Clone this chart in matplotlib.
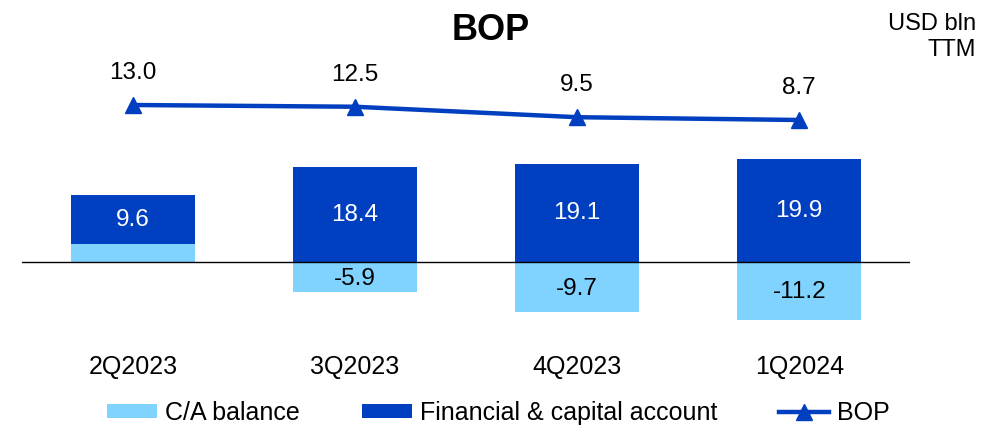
import matplotlib.pyplot as plt
import numpy as np

plt.rcParams['font.family'] = ['Liberation Sans', 'DejaVu Sans']

quarters = ['2Q2023', '3Q2023', '4Q2023', '1Q2024']
ca_balance = [3.4, -5.9, -9.7, -11.2]
fin_capital = [9.6, 18.4, 19.1, 19.9]
bop = [13.0, 12.5, 9.5, 8.7]

light = '#80D2FF'
dark = '#003FBF'

fig = plt.figure(figsize=(9.97, 4.32), dpi=100)
ax = fig.add_axes([0.022, 1 - 330 / 432, 0.891, 270 / 432])

x = np.arange(len(quarters))
w = 0.56
ca_bars = ax.bar(x, ca_balance, w, color=light, label='C/A balance')
# financial account stacks on top of positive C/A, otherwise starts at zero
bottoms = [max(v, 0) for v in ca_balance]
fin_bars = ax.bar(x, fin_capital, w, bottom=bottoms, color=dark,
                  label='Financial & capital account')

ax.axhline(0, color='black', lw=1)
ax.set_xlim(-0.5, 3.5)
ax.set_ylim(-13.2, 39.2)

for i in range(len(quarters)):
    ax.text(x[i], bottoms[i] + fin_capital[i] / 2, f'{fin_capital[i]:.1f}',
            ha='center', va='center', color='white', fontsize=17.5)
    if ca_balance[i] < 0:
        ax.text(x[i], ca_balance[i] / 2 - 0.3, f'{ca_balance[i]:.1f}',
                ha='center', va='center', color='black', fontsize=17.5)

ax.set_xticks(x)
ax.set_xticklabels(quarters, fontsize=18)
ax.tick_params(axis='x', length=0, pad=18)
ax.set_yticks([])
for s in ax.spines.values():
    s.set_visible(False)

# BOP line on its own scale
ax2 = ax.twinx()
ax2.set_ylim(-51.5, 25.9)
line, = ax2.plot(x, bop, color=dark, lw=3.2, marker='^', markersize=12,
                 label='BOP')
for i in range(len(quarters)):
    ax2.annotate(f'{bop[i]:.1f}', (x[i], bop[i]), xytext=(0, 15),
                 textcoords='offset points', ha='center', va='bottom',
                 fontsize=17.5)
ax2.set_yticks([])
for s in ax2.spines.values():
    s.set_visible(False)

fig.text(0.492, 0.93, 'BOP', ha='center', va='center', fontsize=26,
         fontweight='bold')
fig.text(0.979, 0.915, 'USD bln\nTTM', ha='right', va='center', fontsize=17,
         linespacing=1.25)

fig.legend(handles=[ca_bars, fin_bars, line], loc='lower center',
           bbox_to_anchor=(0.5, -0.035), ncol=3, frameon=False, fontsize=18,
           handlelength=2.0, handleheight=0.5, handletextpad=0.3,
           columnspacing=2.5)

fig.savefig('out.png', dpi=100)
